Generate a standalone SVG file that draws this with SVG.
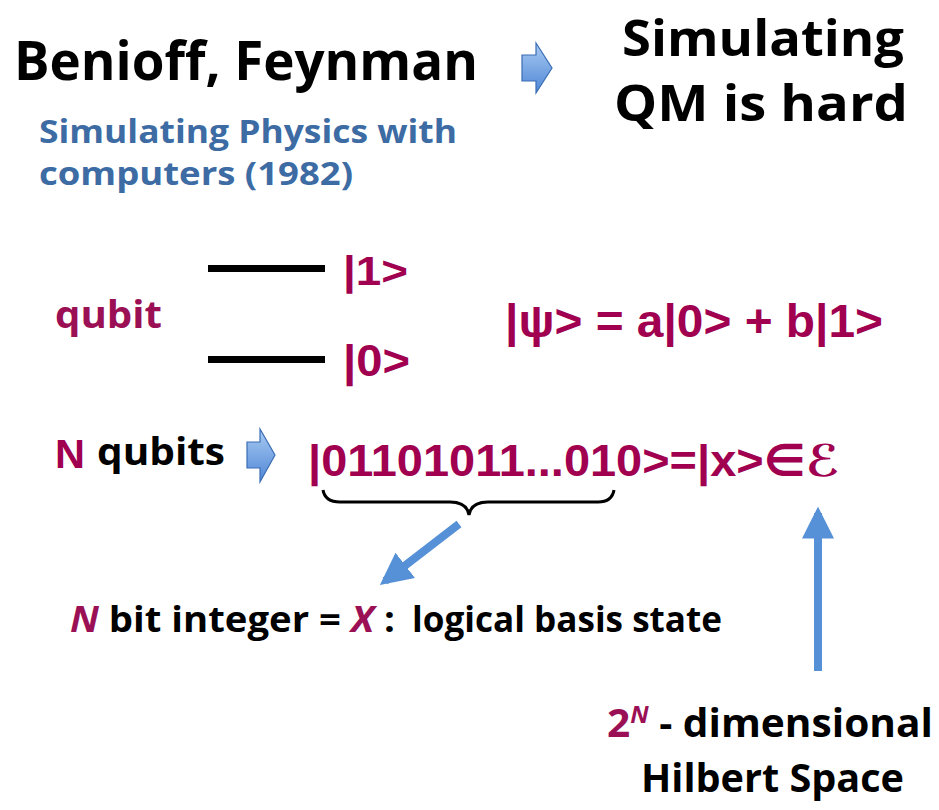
<svg xmlns="http://www.w3.org/2000/svg" width="939" height="810" viewBox="0 0 939 810">
<defs>
<linearGradient id="bg" x1="0" y1="0" x2="0" y2="1">
<stop offset="0" stop-color="#a9cbf2"/>
<stop offset="1" stop-color="#4f86d6"/>
</linearGradient>
<marker id="ah" viewBox="0 0 10 10" refX="8" refY="5" markerWidth="4" markerHeight="4" orient="auto" markerUnits="strokeWidth">
<path d="M0,0 L10,5 L0,10 z" fill="#5690d6"/>
</marker>
</defs>
<style>
.b{font-family:"Open Sans","Liberation Sans",sans-serif;font-weight:700;fill:#000}
.m{fill:#9b0f55}
.blue{fill:#3d6ba3}
.hw{font-family:"Liberation Sans","DejaVu Sans",sans-serif;font-weight:700;fill:#a0004f}
.blk{fill:url(#bg);stroke:#3a6db5;stroke-width:1.2}
.conn{stroke:#5690d6;stroke-width:8;fill:none}
</style>
<rect width="939" height="810" fill="#fff"/>

<g id="title">
<text class="b" x="14" y="80" font-size="54" textLength="464" lengthAdjust="spacingAndGlyphs">Benioff, Feynman</text>
</g>
<g id="subtitle">
<text class="b blue" x="39" y="143" font-size="32" textLength="418" lengthAdjust="spacingAndGlyphs">Simulating Physics with</text>
<text class="b blue" x="39" y="185" font-size="32" textLength="314" lengthAdjust="spacingAndGlyphs">computers (1982)</text>
</g>
<g id="arrow1">
<path class="blk" d="M522,55 L536,55 L536,43 L552,68 L536,93 L536,81 L522,81 Z"/>
</g>
<g id="result">
<text class="b" x="622" y="56" font-size="50" textLength="282" lengthAdjust="spacingAndGlyphs">Simulating</text>
<text class="b" x="614" y="121" font-size="50" textLength="294" lengthAdjust="spacingAndGlyphs">QM is hard</text>
</g>

<g id="qubit">
<text class="b m" x="55" y="328" font-size="37" textLength="107" lengthAdjust="spacingAndGlyphs">qubit</text>
<rect x="208" y="265" width="117" height="7" fill="#000"/>
<rect x="208" y="356" width="117" height="7" fill="#000"/>
<text class="hw" x="343" y="285" font-size="40" textLength="65" lengthAdjust="spacingAndGlyphs">|1&gt;</text>
<text class="hw" x="343" y="376" font-size="44" textLength="67" lengthAdjust="spacingAndGlyphs">|0&gt;</text>
</g>
<g id="state">
<text class="hw" x="505" y="337" font-size="46" textLength="378" lengthAdjust="spacingAndGlyphs">|ψ&gt; = a|0&gt; + b|1&gt;</text>
</g>

<g id="nqubits">
<text class="hw" x="55" y="468" font-size="40" textLength="30" lengthAdjust="spacingAndGlyphs">N</text>
<text class="b" x="97" y="465" font-size="38" textLength="128" lengthAdjust="spacingAndGlyphs">qubits</text>
</g>
<g id="arrow2">
<path class="blk" d="M247,442 L260,442 L260,429 L275,455 L260,482 L260,468 L247,468 Z"/>
</g>
<g id="ket">
<text class="hw" x="308" y="476" font-size="44" textLength="532" lengthAdjust="spacingAndGlyphs">|01101011...010&gt;=|x&gt;∈ℰ</text>
</g>
<g id="brace">
<path d="M323,490 Q325,502 340,502 L450,502 Q467,502 469,515 Q471,502 488,502 L598,502 Q612,502 614,490" fill="none" stroke="#000" stroke-width="3"/>
</g>
<g id="label-bits">
<text class="b" x="70" y="632" font-size="35" textLength="325" lengthAdjust="spacingAndGlyphs"><tspan class="m" font-style="italic">N</tspan> bit integer = <tspan class="m" font-style="italic">X</tspan> :</text>
<text class="b" x="412" y="632" font-size="35" textLength="310" lengthAdjust="spacingAndGlyphs">logical basis state</text>
</g>
<g id="label-hilbert">
<text class="b" x="607" y="737" font-size="40" textLength="326" lengthAdjust="spacingAndGlyphs"><tspan class="m">2</tspan><tspan class="m" font-style="italic" font-size="24" dy="-14">N</tspan><tspan dy="14"> - dimensional</tspan></text>
<text class="b" x="641" y="792" font-size="40" textLength="263" lengthAdjust="spacingAndGlyphs">Hilbert Space</text>
</g>

<g id="connectors">
<line class="conn" x1="459" y1="524" x2="385" y2="581" marker-end="url(#ah)"/>
<line class="conn" x1="818" y1="671" x2="818" y2="513" marker-end="url(#ah)"/>
</g>
</svg>
